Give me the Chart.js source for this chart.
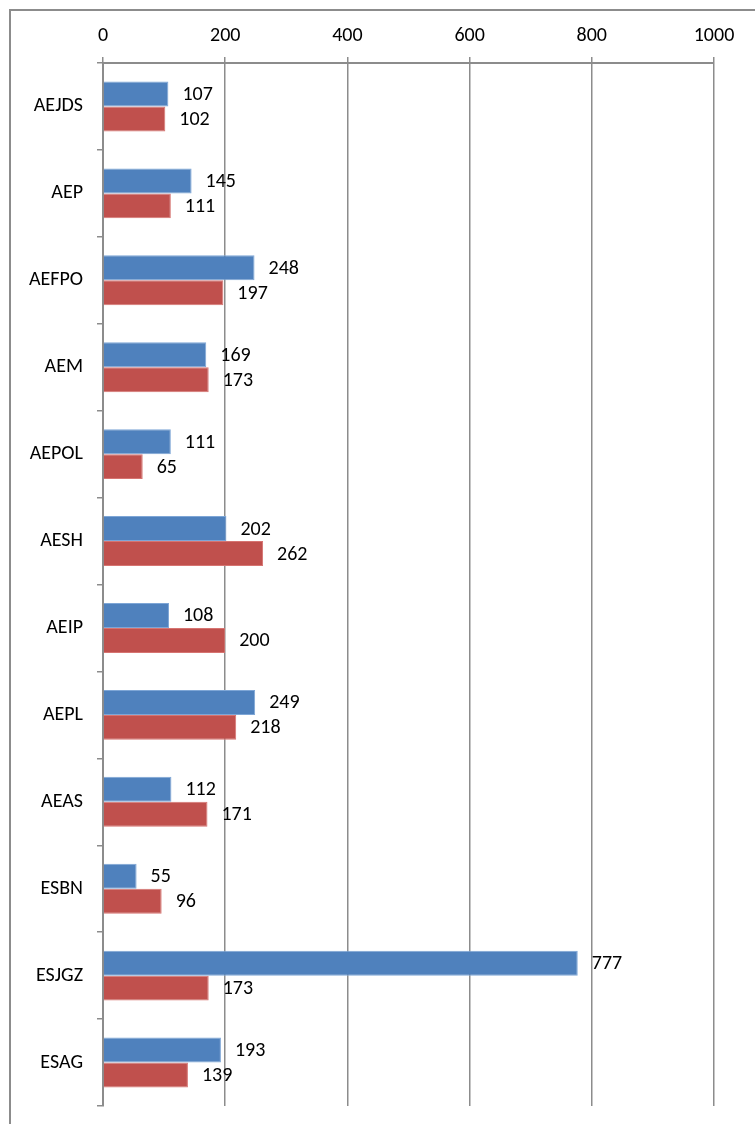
<!DOCTYPE html>
<html>
<head>
<meta charset="utf-8">
<script src="https://cdn.jsdelivr.net/npm/chart.js@4"></script>
<style>
  html, body { margin: 0; padding: 0; background: #fff; overflow: hidden; }
  #frame { position: absolute; left: 9px; top: 9px; width: 760px; height: 1130px;
           border-left: 2px solid #8c8c8c; border-top: 2px solid #8c8c8c; }
  #bars { position: absolute; left: 0; top: 0; }
</style>
</head>
<body>
<div id="frame"></div>
<canvas id="bars" width="755" height="1124"></canvas>
<script>
const categories = ['AEJDS', 'AEP', 'AEFPO', 'AEM', 'AEPOL', 'AESH', 'AEIP', 'AEPL', 'AEAS', 'ESBN', 'ESJGZ', 'ESAG'];
const blueValues = [107, 145, 248, 169, 111, 202, 108, 249, 112, 55, 777, 193];
const redValues = [102, 111, 197, 173, 65, 262, 200, 218, 171, 96, 173, 139];
const xTicks = [0, 200, 400, 600, 800, 1000];

const FONT = "Carlito, 'Open Sans', 'Noto Sans', sans-serif";
const GRID = '#8c8c8c';

// draws the value next to the end of each bar
const valueLabels = {
  id: 'valueLabels',
  afterDatasetsDraw(chart) {
    const ctx = chart.ctx;
    ctx.save();
    ctx.font = '20px ' + FONT;
    ctx.fillStyle = '#000';
    ctx.textAlign = 'left';
    ctx.textBaseline = 'middle';
    chart.data.datasets.forEach((ds, i) => {
      chart.getDatasetMeta(i).data.forEach((bar, j) => {
        ctx.fillText(String(ds.data[j]), bar.x + 14, bar.y + 1);
      });
    });
    ctx.restore();
  }
};

const chart = new Chart('bars', {
  type: 'bar',
  data: {
    labels: categories,
    datasets: [
      {
        label: 'Series 1',
        data: blueValues,
        backgroundColor: '#4F81BD',
        borderColor: '#7ea6d6',
        borderWidth: 1,
        barPercentage: 1,
        categoryPercentage: 0.575,
      },
      {
        label: 'Series 2',
        data: redValues,
        backgroundColor: '#C0504D',
        borderColor: '#d67471',
        borderWidth: 1,
        barPercentage: 1,
        categoryPercentage: 0.575,
      },
    ],
  },
  options: {
    indexAxis: 'y',
    responsive: false,
    maintainAspectRatio: false,
    animation: false,
    devicePixelRatio: 1,
    layout: { padding: { left: 0, top: 0, right: 41, bottom: 18 } },
    plugins: {
      legend: { display: false },
      tooltip: { enabled: false },
    },
    scales: {
      x: {
        position: 'top',
        min: 0,
        max: 1000,
        afterBuildTicks: (s) => { s.ticks = xTicks.map(v => ({ value: v })); },
        afterFit: (s) => { s.height = 63; },
        ticks: {
          color: '#000',
          font: { family: FONT, size: 20 },
          padding: 9,
          maxRotation: 0,
          minRotation: 0,
          callback: (v) => String(v),
        },
        grid: { color: GRID, lineWidth: 1.5, tickLength: 6 },
        border: { color: GRID, width: 2 },
      },
      y: {
        afterFit: (s) => { s.width = 103; s.paddingTop = 0; s.paddingBottom = 0; },
        ticks: {
          color: '#000',
          font: { family: FONT, size: 20 },
          padding: 14,
        },
        grid: { drawOnChartArea: false, color: GRID, lineWidth: 1.5, tickLength: 6, offset: true },
        border: { color: GRID, width: 2 },
      },
    },
  },
  plugins: [valueLabels],
});
</script>
</body>
</html>
